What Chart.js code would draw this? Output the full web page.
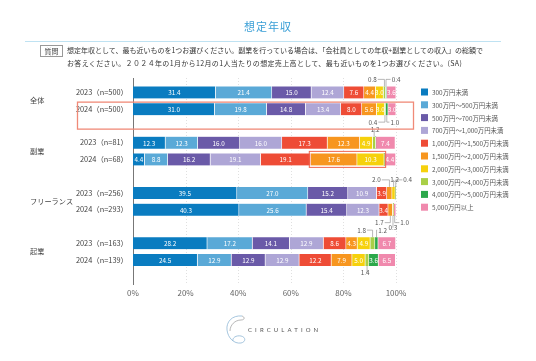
<!DOCTYPE html>
<html><head><meta charset="utf-8">
<script src="https://cdn.jsdelivr.net/npm/chart.js@4/dist/chart.umd.min.js"></script>
<style>
html,body{margin:0;padding:0;background:#fff;}
#wrap{position:relative;width:536px;height:361px;overflow:hidden;font-family:"Noto Sans CJK JP","Noto Sans",sans-serif;}
#c{position:absolute;left:0;top:0;}
.title{position:absolute;left:0;width:536px;top:18px;text-align:center;font-size:11px;color:#3a9fd6;letter-spacing:1px;}
.rule{position:absolute;left:25px;width:476px;top:41px;height:1px;background:#bfe2f2;}
.qbox{position:absolute;left:40px;top:45px;width:21px;height:10px;border:1px solid #999;font-size:7px;line-height:10px;text-align:center;color:#444;}
.qtext{position:absolute;left:67px;top:44px;font-size:7px;line-height:13px;color:#333;white-space:nowrap;}
.qtext .w{letter-spacing:0.35px;}
.logo{position:absolute;left:224px;top:314px;}
.logotext{position:absolute;left:248px;top:326px;font-size:6px;letter-spacing:3.1px;color:#555;font-family:"Lato","Noto Sans",sans-serif;}
</style></head>
<body>
<div id="wrap">
<canvas id="c" width="536" height="361"></canvas>
<div class="title">想定年収</div>
<div class="rule"></div>
<div class="qbox">質問</div>
<div class="qtext">想定年収として、最も近いものを1つお選びください。副業を行っている場合は、「会社員としての年収+副業としての収入」の総額で<br><span class="w">お答えください。２０２４年の1月から12月の1人当たりの想定売上高として、最も近いものを1つお選びください。(SA)</span></div>
<svg class="logo" width="24" height="32" viewBox="0 0 24 32">
<path d="M18 2 C8 1 2 8 3 16 C4 24 10 30 17 29 C22 28 22 23 17 22 C12 21 8 24 9 27" fill="none" stroke="#8fb7d6" stroke-width="0.8"/>
<path d="M18 2 C21 3 21 6 17 6 C11 6 6 11 6 17" fill="none" stroke="#9a9a9a" stroke-width="0.7"/>
</svg>
<div class="logotext">CIRCULATION</div>
</div>
<script>
const categories = ['2023（n=500）','2024（n=500）','', '2023（n=81）','2024（n=68）','', '2023（n=256）','2024（n=293）','', '2023（n=163）','2024（n=139）',''];
const groups = ['全体','副業','フリーランス','起業'];
const seriesNames = ['300万円未満','300万円～500万円未満','500万円～700万円未満','700万円～1,000万円未満','1,000万円～1,500万円未満','1,500万円～2,000万円未満','2,000万円～3,000万円未満','3,000万円～4,000万円未満','4,000万円～5,000万円未満','5,000万円以上'];
const seriesColors = ['#0a7cc0','#5aa9d7','#6a5aa8','#aea6d6','#ee4c36','#f7961f','#f6d10c','#a9cf47','#2ca84b','#f089ad'];
const s300 =   [31.4,31.0,null,12.3, 4.4,null,39.5,40.3,null,28.2,24.5,null];
const s500 =   [21.4,19.8,null,12.3, 8.8,null,27.0,25.6,null,17.2,12.9,null];
const s700 =   [15.0,14.8,null,16.0,16.2,null,15.2,15.4,null,14.1,12.9,null];
const s1000 =  [12.4,13.4,null,16.0,19.1,null,10.9,12.3,null,12.9,12.9,null];
const s1500 =  [ 7.6, 8.0,null,17.3,19.1,null, 3.9, 3.4,null, 8.6,12.2,null];
const s2000 =  [ 4.4, 5.6,null,12.3,17.6,null, 2.0, 1.7,null, 4.3, 7.9,null];
const s3000 =  [ 3.0, 3.0,null, 4.9,10.3,null, 1.2, 0.3,null, 4.9, 5.0,null];
const s4000 =  [ 0.8, 0.4,null, 1.2, 0,  null, 0,   0,  null, 1.8, 1.4,null];
const s5000 =  [ 0.4, 1.0,null, 0,   0,  null, 0,   0,  null, 1.2, 3.6,null];
const sOver =  [ 3.6, 3.0,null, 7.4, 4.4,null, 0.4, 1.0,null, 6.7, 6.5,null];
const xTicks = [0,20,40,60,80,100];
const allSeries = [s300,s500,s700,s1000,s1500,s2000,s3000,s4000,s5000,sOver];

// annotation layout for small values shown outside the bars
const outsideLabels = [
 {d:7,i:0,side:'top',dx:-12},{d:8,i:0,side:'top',dx:10},
 {d:7,i:1,side:'bottom',dx:-12},{d:8,i:1,side:'bottom',dx:8},
 {d:7,i:3,side:'top',dx:1},
 {d:5,i:6,side:'top',dx:-13},{d:6,i:6,side:'top',dx:1},{d:9,i:6,side:'top',dx:12},
 {d:5,i:7,side:'bottom',dx:-11},{d:6,i:7,side:'bottom',dx:0,extra:5},{d:9,i:7,side:'bottom',dx:10},
 {d:7,i:9,side:'top',dx:-11},{d:8,i:9,side:'top',dx:6},
 {d:7,i:10,side:'bottom',dx:-2}
];

const FONT = '"Noto Sans CJK JP","Noto Sans",sans-serif';

const labelPlugin = {
  id:'labels',
  beforeDatasetsDraw(chart){
    const ctx = chart.ctx, xs = chart.scales.x, a = chart.chartArea;
    ctx.save();
    ctx.strokeStyle='#d8d8d8'; ctx.lineWidth=0.8; ctx.setLineDash([1,2]);
    xTicks.forEach(v=>{ if(v===0) return; const x=Math.round(xs.getPixelForValue(v))+0.5;
      ctx.beginPath(); ctx.moveTo(x, a.top-6); ctx.lineTo(x, a.bottom); ctx.stroke(); });
    ctx.setLineDash([]);
    ctx.strokeStyle='#777'; ctx.lineWidth=1;
    const x0 = Math.round(xs.getPixelForValue(0))+0.5;
    ctx.beginPath(); ctx.moveTo(x0, a.top-6); ctx.lineTo(x0, a.bottom); ctx.stroke();
    ctx.restore();
  },
  afterDatasetsDraw(chart){
    const ctx = chart.ctx;
    ctx.save();
    ctx.font = '6.3px '+FONT;
    ctx.textAlign='center'; ctx.textBaseline='middle';
    chart.data.datasets.forEach((ds,d)=>{
      const meta = chart.getDatasetMeta(d);
      meta.data.forEach((el,i)=>{
        const v = ds.data[i];
        if (v==null || v<3) return;
        ctx.fillStyle = '#fff';
        ctx.fillText(v.toFixed(1),(el.x+el.base)/2, el.y+0.5);
      });
    });
    ctx.strokeStyle='#888'; ctx.lineWidth=0.6;
    outsideLabels.forEach(o=>{
      const el = chart.getDatasetMeta(o.d).data[o.i];
      const v = chart.data.datasets[o.d].data[o.i];
      const cx = (el.x+el.base)/2;
      const h = el.height/2;
      const ty = o.side==='top' ? el.y-h-7-(o.extra||0) : el.y+h+7+(o.extra||0);
      const tx = cx+o.dx;
      const txt = v.toFixed(1);
      const w = ctx.measureText(txt).width;
      ctx.beginPath();
      const edge = o.side==='top'? el.y-h : el.y+h;
      ctx.moveTo(cx, edge);
      ctx.lineTo(cx, ty);
      if (Math.abs(o.dx) > w/2+1){
        ctx.lineTo(o.dx<0? tx+w/2+1 : tx-w/2-1, ty);
      }
      ctx.stroke();
      ctx.fillStyle='#555';
      ctx.fillText(txt, tx, ty);
    });
    const ys = chart.scales.y;
    const y1 = ys.getPixelForValue(1);
    ctx.strokeStyle='#f08a78'; ctx.lineWidth=1.3;
    ctx.strokeRect(77.5, y1-7, 336, 27);
    const e5 = chart.getDatasetMeta(5).data[4], e6 = chart.getDatasetMeta(6).data[4];
    ctx.strokeStyle='#f0664e'; ctx.lineWidth=1;
    ctx.strokeRect(e5.base-1.5, e5.y-8, e6.x-e5.base+3, 16);
    ctx.restore();
  },
  afterDraw(chart){
    const ctx = chart.ctx, ys = chart.scales.y;
    ctx.save();
    ctx.font = '7.2px '+FONT; ctx.fillStyle='#444';
    ctx.textAlign='left'; ctx.textBaseline='middle';
    groups.forEach((g,k)=>{
      const y = (ys.getPixelForValue(k*3)+ys.getPixelForValue(k*3+1))/2;
      ctx.fillText(g, 30, y);
    });
    ctx.font = '6.4px '+FONT;
    seriesNames.forEach((n,k)=>{
      const y = 92 + k*12.8;
      ctx.fillStyle = seriesColors[k];
      ctx.fillRect(421, y-3.5, 7, 7);
      ctx.fillStyle = '#555';
      ctx.fillText(n, 432, y+0.5);
    });
    ctx.restore();
  }
};

new Chart(document.getElementById('c'),{
  type:'bar',
  data:{
    labels:categories,
    datasets: allSeries.map((s,k)=>({
      label:seriesNames[k], data:s, backgroundColor:seriesColors[k],
      borderColor:'#ffffff', borderWidth:{left:0,right:0.8,top:0,bottom:0}, borderSkipped:false,
      barThickness:12
    }))
  },
  options:{
    indexAxis:'y', responsive:false, animation:false,
    layout:{padding:{top:84,right:140,bottom:56,left:0}},
    plugins:{legend:{display:false}, tooltip:{enabled:false}},
    scales:{
      x:{stacked:true, min:0, max:100,
        afterBuildTicks(s){ s.ticks = xTicks.map(v=>({value:v})); },
        afterFit(s){ s.height = 20; },
        ticks:{callback:v=>v+'%', color:'#666', font:{size:8, family:FONT}, padding:3},
        grid:{display:false, drawTicks:false},
        border:{display:false}
      },
      y:{stacked:true,
        afterFit(s){ s.width = 133; },
        ticks:{color:'#444', font:{size:7.4, family:FONT}, padding:5, autoSkip:false},
        grid:{display:false, drawTicks:false},
        border:{display:false}
      }
    }
  },
  plugins:[labelPlugin]
});
</script>
</body></html>
